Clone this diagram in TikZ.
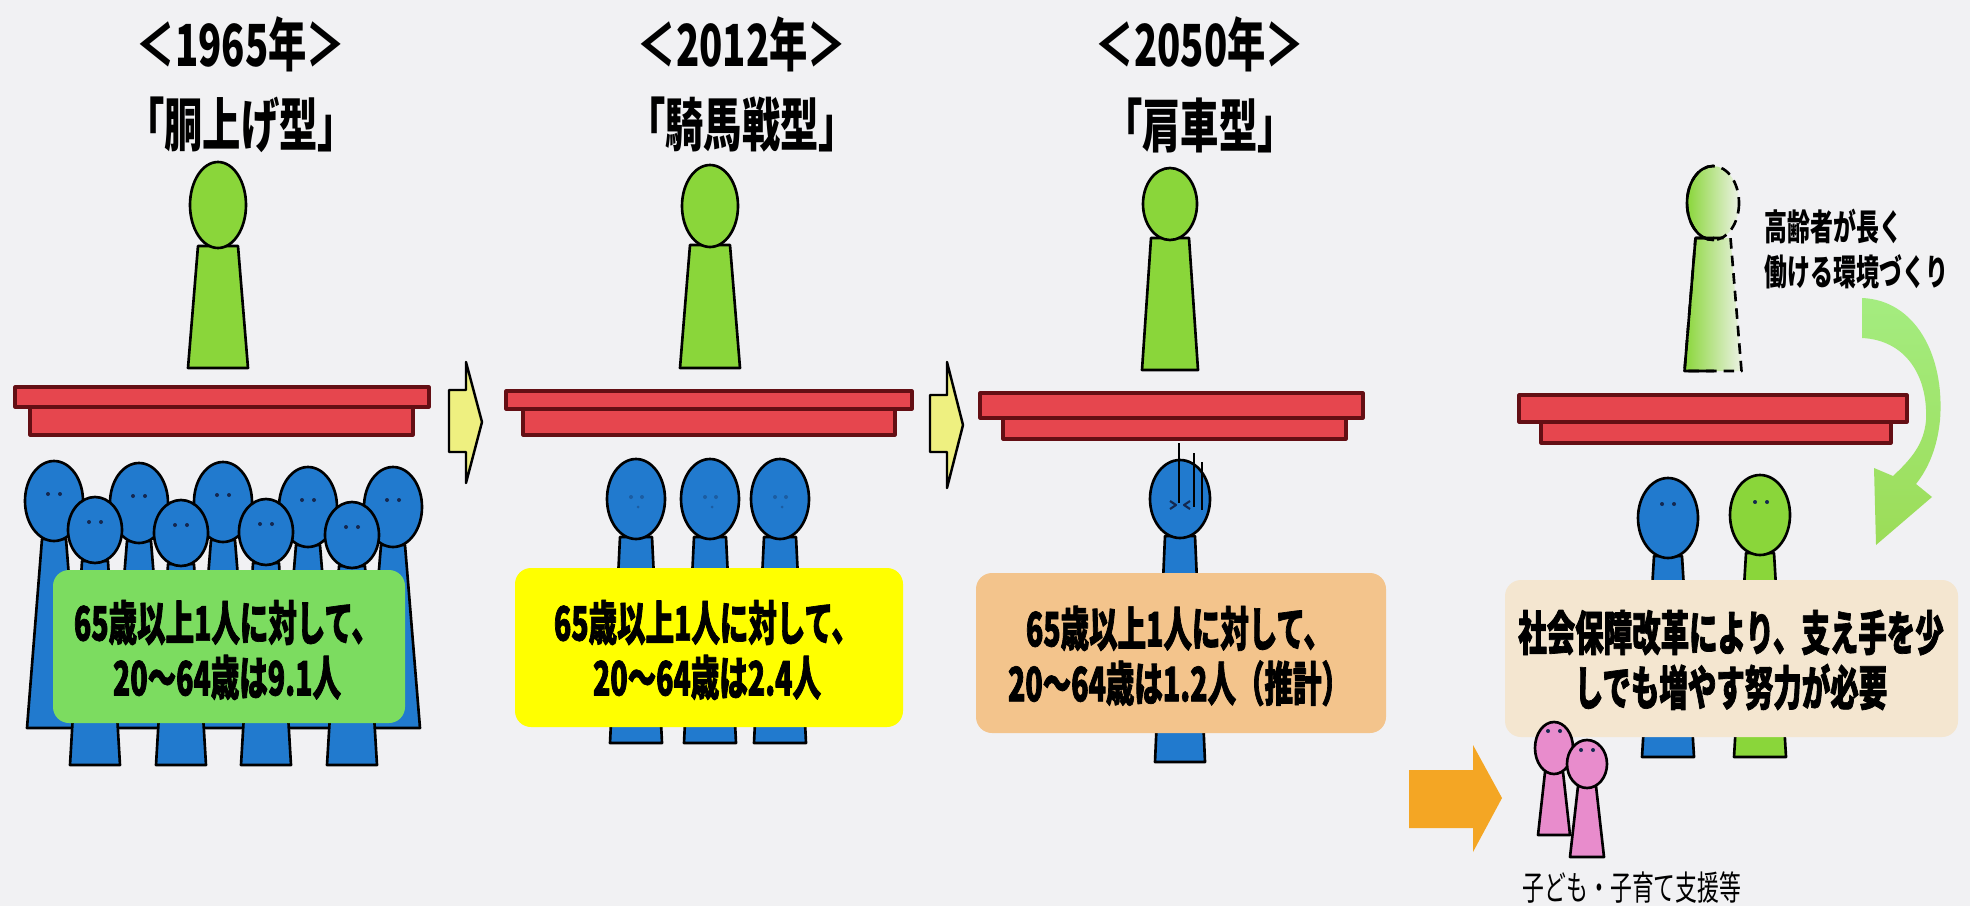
\documentclass[tikz,border=0pt]{standalone}
\usepackage{fontspec}
\usepackage{tikz}
\newfontfamily\titlefont[FakeStretch=0.66]{Noto Sans CJK JP}
\newfontfamily\boxfont[FakeStretch=0.6, BoldFeatures={FakeBold=1.5}]{Noto Sans CJK JP}
\newfontfamily\notefont[FakeStretch=0.64]{Noto Sans CJK JP}
\definecolor{paper}{RGB}{241,241,243}
\definecolor{figblue}{RGB}{33,122,206}
\definecolor{figgreen}{RGB}{138,214,58}
\definecolor{fadegreen}{RGB}{236,242,228}
\definecolor{figpink}{RGB}{232,140,204}
\definecolor{plank}{RGB}{230,70,78}
\definecolor{plankedge}{RGB}{100,15,20}
\definecolor{boxgreen}{RGB}{124,220,96}
\definecolor{boxyellow}{RGB}{255,255,0}
\definecolor{boxorange}{RGB}{243,196,140}
\definecolor{boxbeige}{RGB}{244,230,208}
\definecolor{arrowyellow}{RGB}{238,240,128}
\definecolor{arroworange}{RGB}{244,166,36}
\definecolor{eyedot}{RGB}{20,40,80}

% person: colour, head x, head y, head rx, head ry, neck half width, foot y, foot half width
\newcommand{\person}[8]{%
    \filldraw[figline, fill=#1] ({#2-#6},{#3+#5-2}) -- ({#2+#6},{#3+#5-2}) -- ({#2+#8},#7) -- ({#2-#8},#7) -- cycle;
    \filldraw[figline, fill=#1] (#2,#3) ellipse [x radius=#4, y radius=#5];
}
\newcommand{\eyes}[2]{%
    \fill[eyedot] ({#1-6},{#2}) circle [radius=2] ({#1+6},{#2}) circle [radius=2];
}
% two stacked planks: upper x1 x2 y1 y2, lower x3 x4 down to y3
\newcommand{\board}[7]{%
    \filldraw[plank] (#5,#4) rectangle (#6,#7);
    \filldraw[plank] (#1,#3) rectangle (#2,#4);
}

\begin{document}
\begin{tikzpicture}[x=0.01cm, y=-0.01cm, line join=round,
    figline/.style={draw=black, line width=0.75pt},
    plank/.style={draw=plankedge, fill=plank, line width=0.9pt},
    yeartitle/.style={font=\titlefont\bfseries\fontsize{16.5}{18}\selectfont, inner sep=0pt},
    ratiotext/.style={font=\boxfont\bfseries\fontsize{13.5}{15.6}\selectfont, align=center, inner sep=0pt},
    roundbox/.style={rounded corners=0.16cm},
    steparrow/.style={draw=black, fill=arrowyellow, line width=0.7pt}]

    \useasboundingbox (0,0) rectangle (1970,906);
    \fill[paper] (0,0) rectangle (1970,906);

    % 1965
    \node[yeartitle] (y1965) at (241,44) {＜1965年＞};
    \node[yeartitle] (t1965) at (241,125) {「胴上げ型」};
    \person{figgreen}{218}{205}{28}{43}{20}{368}{30}
    \board{15}{429}{387}{407}{30}{413}{435}
    \foreach \cx/\cy in {54/501, 139/503, 223/502, 308/507, 393/507}
        {\person{figblue}{\cx}{\cy}{29}{40}{12}{728}{27}\eyes{\cx}{\cy-7}}
    \foreach \cx/\cy in {95/530, 181/533, 266/532, 352/535}
        {\person{figblue}{\cx}{\cy}{27}{33}{13}{765}{25}\eyes{\cx}{\cy-8}}
    \fill[boxgreen, roundbox] (53,570) rectangle (405,723);
    \node[ratiotext] (r1965) at (227,650) {65歳以上1人に対して、\\20～64歳は9.1人};

    \draw[steparrow] (449,390) -- (466,390) -- (466,362) -- (482,422) -- (466,483) -- (466,452) -- (449,452) -- cycle;

    % 2012
    \node[yeartitle] (y2012) at (742,44) {＜2012年＞};
    \node[yeartitle] (t2012) at (742,125) {「騎馬戦型」};
    \person{figgreen}{710}{206}{28}{41}{20}{368}{30}
    \board{506}{912}{391}{409}{523}{895}{435}
    \foreach \cx in {636,710,780}
        {\person{figblue}{\cx}{499}{29}{40}{16}{743}{26}
         \fill[eyedot, opacity=0.35] ({\cx-5},497) circle [radius=2] ({\cx+6},497) circle [radius=2] ({\cx+2},507) circle [radius=1.5];}
    \fill[boxyellow, roundbox] (515,568) rectangle (903,727);
    \node[ratiotext] (r2012) at (707,650) {65歳以上1人に対して、\\20～64歳は2.4人};

    \draw[steparrow] (930,395) -- (947,395) -- (947,362) -- (963,425) -- (947,488) -- (947,452) -- (930,452) -- cycle;

    % 2050
    \node[yeartitle] (y2050) at (1200,44) {＜2050年＞};
    \node[yeartitle] (t2050) at (1200,125) {「肩車型」};
    \person{figgreen}{1170}{204}{27}{36}{19}{370}{28}
    \board{980}{1363}{393}{418}{1003}{1346}{439}
    \person{figblue}{1180}{499}{30}{39}{15}{762}{25}
    \draw[eyedot, line width=0.6pt] (1170,501) -- (1176,505) -- (1170,509) (1190,501) -- (1184,505) -- (1190,509);
    \draw[line width=0.6pt] (1179,443) -- (1179,503) (1194,453) -- (1194,507) (1202,462) -- (1202,510);
    \fill[boxorange, roundbox] (976,573) rectangle (1386,733);
    \node[ratiotext] (r2050) at (1179,656) {65歳以上1人に対して、\\20～64歳は1.2人（推計）};

    % reform
    \shade[left color=figgreen, right color=fadegreen] (1695.5,238) -- (1730.5,238) -- (1741.5,371) -- (1684.5,371) -- cycle;
    \shade[left color=figgreen, right color=fadegreen] (1713,203) ellipse [x radius=26, y radius=37];
    \draw[figline, dash pattern=on 3pt off 2pt] (1695.5,238) -- (1730.5,238) -- (1741.5,371) -- (1684.5,371) -- cycle;
    \draw[figline, dash pattern=on 3pt off 2pt] (1713,203) ellipse [x radius=26, y radius=37];
    \begin{scope}
        \clip (1650,150) rectangle (1714,390);
        \draw[figline] (1695.5,238) -- (1730.5,238) -- (1741.5,371) -- (1684.5,371) -- cycle;
        \draw[figline] (1713,203) ellipse [x radius=26, y radius=37];
    \end{scope}
    \node[font=\notefont\bfseries\fontsize{10.2}{12.8}\selectfont, align=left, anchor=west, inner sep=0pt]
        (longwork) at (1764,249) {高齢者が長く\\働ける環境づくり};
    \shade[top color=green!25!figgreen!60!white, bottom color=figgreen!85!white]
        (1862,298) .. controls (1915,300) and (1945,355) .. (1940,420)
        .. controls (1937,450) and (1927,470) .. (1916,484)
        -- (1932,497) -- (1876,545) -- (1874,468) -- (1893,476)
        .. controls (1910,460) and (1924,445) .. (1926,420)
        .. controls (1928,375) and (1905,340) .. (1862,338) -- cycle;

    \board{1519}{1907}{395}{422}{1541}{1891}{443}
    \person{figblue}{1668}{518}{30}{40}{14}{757}{26}
    \eyes{1668}{504}
    \person{figgreen}{1760}{515}{30}{40}{14}{757}{26}
    \eyes{1761}{502}
    \fill[boxbeige, roundbox] (1505,580) rectangle (1958,737);
    \node[ratiotext] (reform) at (1731,660) {社会保障改革により、支え手を少\\しでも増やす努力が必要};

    \fill[arroworange] (1409,770) -- (1473,770) -- (1473,745) -- (1502,798) -- (1473,852) -- (1473,828) -- (1409,828) -- cycle;
    \person{figpink}{1554}{748}{19}{26}{9}{835}{16}
    \eyes{1554}{731}
    \person{figpink}{1587}{764}{20}{24}{9}{857}{17}
    \eyes{1587}{750}
    \node[font=\notefont\fontsize{9.7}{11}\selectfont, inner sep=0pt] (childcare) at (1632,887) {子ども・子育て支援等};
\end{tikzpicture}
\end{document}
